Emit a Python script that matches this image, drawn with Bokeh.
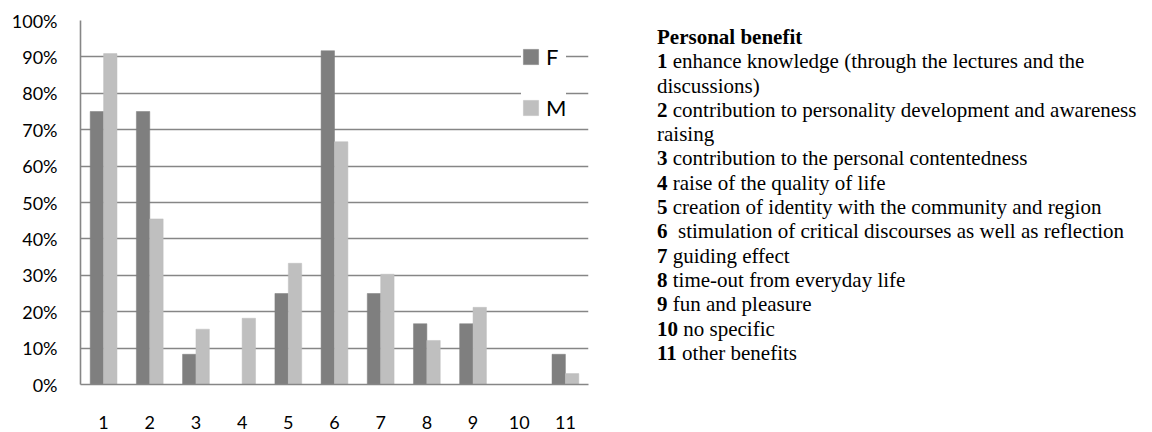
from bokeh.plotting import figure
from bokeh.models import (ColumnDataSource, FixedTicker, NumeralTickFormatter, Legend,
                          LegendItem, Div, Range1d)
from bokeh.layouts import row
from bokeh.transform import dodge
from bokeh.embed import file_html
from bokeh.resources import INLINE

# ---- data ----
categories = [1, 2, 3, 4, 5, 6, 7, 8, 9, 10, 11]
female = [0.750, 0.750, 0.083, 0.000, 0.250, 0.917, 0.250, 0.167, 0.167, 0.000, 0.083]
male = [0.909, 0.455, 0.152, 0.182, 0.333, 0.667, 0.303, 0.121, 0.212, 0.000, 0.030]
y_ticks = [0.0, 0.1, 0.2, 0.3, 0.4, 0.5, 0.6, 0.7, 0.8, 0.9, 1.0]
series_names = ["F", "M"]
legend_title = "Personal benefit"
benefit_lines = [
    ["1", "enhance knowledge (through the lectures and the", "discussions)"],
    ["2", "contribution to personality development and awareness", "raising"],
    ["3", "contribution to the personal contentedness"],
    ["4", "raise of the quality of life"],
    ["5", "creation of identity with the community and region"],
    ["6", "&nbsp;stimulation of critical discourses as well as reflection"],
    ["7", "guiding effect"],
    ["8", "time-out from everyday life"],
    ["9", "fun and pleasure"],
    ["10", "no specific"],
    ["11", "other benefits"],
]

src = ColumnDataSource(dict(x=categories, female=female, male=male))

GRID = "#868686"
FONT = "Lato"
SERIF = "'Liberation Serif', 'Times New Roman', Times, serif"

p = figure(width=628, height=432, x_range=Range1d(0.5, 11.5), y_range=Range1d(0, 1),
           output_backend="svg", toolbar_location=None,
           min_border_left=80, min_border_right=40, min_border_top=20, min_border_bottom=48)
p.outline_line_color = None
p.background_fill_color = "white"

rF = p.vbar(x=dodge("x", -0.145, range=p.x_range), top="female", width=0.29, source=src,
            fill_color="#7f7f7f", line_color="#7f7f7f", line_width=0.5)
rM = p.vbar(x=dodge("x", 0.145, range=p.x_range), top="male", width=0.29, source=src,
            fill_color="#bfbfbf", line_color="#bfbfbf", line_width=0.5)

p.xgrid.visible = False
p.ygrid.ticker = FixedTicker(ticks=y_ticks)
p.ygrid.grid_line_color = GRID
p.ygrid.grid_line_width = 1.4

ya = p.yaxis[0]
ya.ticker = FixedTicker(ticks=y_ticks)
ya.formatter = NumeralTickFormatter(format="0%")
ya.major_tick_line_color = None
ya.major_tick_out = 0
ya.major_tick_in = 0
ya.minor_tick_line_color = None
ya.minor_tick_out = 0
ya.axis_line_color = GRID
ya.axis_line_width = 1.6
ya.major_label_text_font = FONT
ya.major_label_text_font_size = "18px"
ya.major_label_text_color = "black"
ya.major_label_standoff = 23

xa = p.xaxis[0]
xa.ticker = FixedTicker(ticks=categories)
xa.major_tick_line_color = None
xa.major_tick_out = 0
xa.major_tick_in = 0
xa.minor_tick_line_color = None
xa.minor_tick_out = 0
xa.axis_line_color = GRID
xa.axis_line_width = 1.6
xa.major_label_text_font = FONT
xa.major_label_text_font_size = "18px"
xa.major_label_text_color = "black"
xa.major_label_standoff = 31

legend = Legend(items=[LegendItem(label=series_names[0], renderers=[rF]),
                       LegendItem(label=series_names[1], renderers=[rM])],
                location=(441, 263), padding=19, spacing=23,
                glyph_width=19, glyph_height=19, label_height=28, label_standoff=6,
                label_text_font=FONT, label_text_font_size="22px", label_text_color="black",
                border_line_color=None,
                background_fill_color="white", background_fill_alpha=1.0)
p.add_layout(legend)

span = "<span style=\"font-family: %s; font-weight: %s\">%s</span>"
lines = [span % (SERIF, "bold", legend_title)]
for item in benefit_lines:
    lines.append(span % (SERIF, "bold", item[0]) + span % (SERIF, "400", " " + item[1]))
    for extra in item[2:]:
        lines.append(span % (SERIF, "400", extra))
html = ("<div style=\"font-family: %s; font-size: 21px; line-height: 24.3px; "
        "color: black; white-space: nowrap;\">" % SERIF) + "<br>".join(lines) + "</div>"

div = Div(text=html, width=480, height=400, margin=(25, 0, 0, 29),
          styles={"font-family": SERIF, "font-size": "21px",
                  "line-height": "24.3px", "color": "black", "white-space": "nowrap"})

layout = row(p, div)
open("out.html", "w").write(file_html(layout, INLINE))
